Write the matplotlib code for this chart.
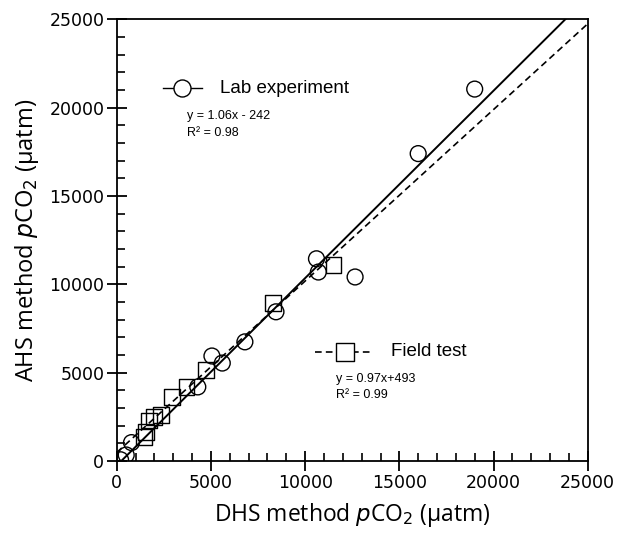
import numpy as np
import matplotlib.pyplot as plt
from matplotlib.ticker import MultipleLocator

# --- DATOS ---
# Lab experiment (circulos)
lab_x = [200, 500, 780, 4300, 5050, 5600, 6800, 8450, 10600, 10700, 12650, 16000, 19000]
lab_y = [80, 350, 1050, 4200, 5950, 5550, 6750, 8450, 11450, 10700, 10420, 17400, 21050]

# Field test (cuadrados)
field_x = [1450, 1550, 1700, 1970, 2350, 2950, 3700, 4750, 8300, 11500]
field_y = [1350, 1650, 2300, 2500, 2600, 3650, 4200, 5150, 8950, 11100]

# Ajustes lineales
lab_fit = (1.06, -242)
field_fit = (0.97, 493)

fig = plt.figure(figsize=(6.18, 5.35), dpi=100)
ax = fig.add_axes([0.189, 0.138, 0.762, 0.826])

ax.scatter(lab_x, lab_y, s=130, marker='o', facecolors='none',
           edgecolors='black', linewidths=1.0, zorder=3)
ax.scatter(field_x, field_y, s=130, marker='s', facecolors='none',
           edgecolors='black', linewidths=1.0, zorder=3)

xx = np.array([0, 25000])
ax.plot(xx, lab_fit[0] * xx + lab_fit[1], 'k-', lw=1.4)
ax.plot(xx, field_fit[0] * xx + field_fit[1], 'k--', lw=1.2, dashes=(4, 2.5))

ax.set_xlim(0, 25000)
ax.set_ylim(0, 25000)
ax.xaxis.set_major_locator(MultipleLocator(5000))
ax.yaxis.set_major_locator(MultipleLocator(5000))
ax.xaxis.set_minor_locator(MultipleLocator(1000))
ax.yaxis.set_minor_locator(MultipleLocator(1000))
ax.tick_params(which='major', direction='inout', length=14, width=1.3,
               labelsize=12.5, pad=2)
ax.tick_params(which='minor', direction='in', length=6, width=1.2)
for sp in ax.spines.values():
    sp.set_linewidth(1.3)

lab_font = ['Open Sans', 'DejaVu Sans']
ax.set_xlabel('DHS method $p$CO$_2$ (µatm)', fontsize=16.5, family=lab_font, labelpad=7)
ax.set_ylabel('AHS method $p$CO$_2$ (µatm)', fontsize=17, family=lab_font, labelpad=6)

# --- Leyenda manual ---
tf = 'Liberation Sans'
ax.plot([2450, 4500], [21100, 21100], 'k-', lw=1.0)
ax.scatter([3470], [21100], s=150, marker='o', facecolors='white', edgecolors='black',
           linewidths=1.0, zorder=4)
ax.text(5500, 21100, 'Lab experiment', fontsize=13.5, family=tf, va='center')
ax.text(3750, 19500, 'y = 1.06x - 242', fontsize=9, family=tf, va='center')
ax.text(3750, 18550, 'R² = 0.98', fontsize=9, family=tf, va='center')

# trazo discontinuo a ambos lados del cuadrado
ax.plot([10500, 11700], [6180, 6180], 'k--', lw=1.2, dashes=(4, 2.5))
ax.plot([12500, 13600], [6180, 6180], 'k--', lw=1.2, dashes=(4, 2.5))
ax.scatter([12100], [6180], s=150, marker='s', facecolors='white', edgecolors='black',
           linewidths=1.0, zorder=4)
ax.text(14550, 6180, 'Field test', fontsize=13.5, family=tf, va='center')
ax.text(11650, 4650, 'y = 0.97x+493', fontsize=9, family=tf, va='center')
ax.text(11650, 3750, 'R² = 0.99', fontsize=9, family=tf, va='center')

plt.savefig('out.png', dpi=100)
